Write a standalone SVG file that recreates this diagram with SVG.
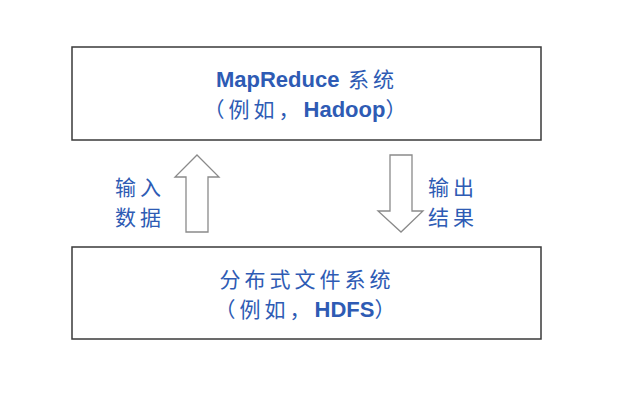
<svg xmlns="http://www.w3.org/2000/svg" width="641" height="401" viewBox="0 0 641 401">
<style>
.box{fill:#fff;stroke:#3a3a3a;stroke-width:1.5}
.arr{fill:#fff;stroke:#8a8a8a;stroke-width:1.3}
.t{fill:#2E5BB4;font-family:"Liberation Sans","Noto Sans CJK SC",sans-serif;font-size:21px;text-anchor:middle}
.cjk{font-family:"Noto Sans CJK SC",sans-serif;letter-spacing:4px}
.b{font-weight:bold}
</style>
<rect width="641" height="401" fill="#fff"/>
<g id="mapreduce">
<rect class="box" x="72" y="47" width="469" height="93"/>
<text class="t" x="307" y="87"><tspan class="b" font-size="22">MapReduce</tspan><tspan class="cjk"> 系统</tspan></text>
<text class="t" x="307" y="117"><tspan class="cjk">（例如，</tspan><tspan class="b" font-size="22">Hadoop</tspan><tspan class="cjk">）</tspan></text>
</g>
<g id="hdfs">
<rect class="box" x="72" y="247" width="469" height="92"/>
<text class="t cjk" x="307" y="287">分布式文件系统</text>
<text class="t" x="307" y="317"><tspan class="cjk">（例如，</tspan><tspan class="b" font-size="22">HDFS</tspan><tspan class="cjk">）</tspan></text>
</g>
<g id="connectors">
<polygon class="arr" points="197,155 219,177 208,177 208,232 186,232 186,177 175,177"/>
<polygon class="arr" points="390,155 412,155 412,211 423,211 401,232 378,211 390,211"/>
<text class="t cjk" x="140" y="195">输入</text>
<text class="t cjk" x="140" y="225">数据</text>
<text class="t cjk" x="453" y="195">输出</text>
<text class="t cjk" x="453" y="225">结果</text>
</g>
</svg>
